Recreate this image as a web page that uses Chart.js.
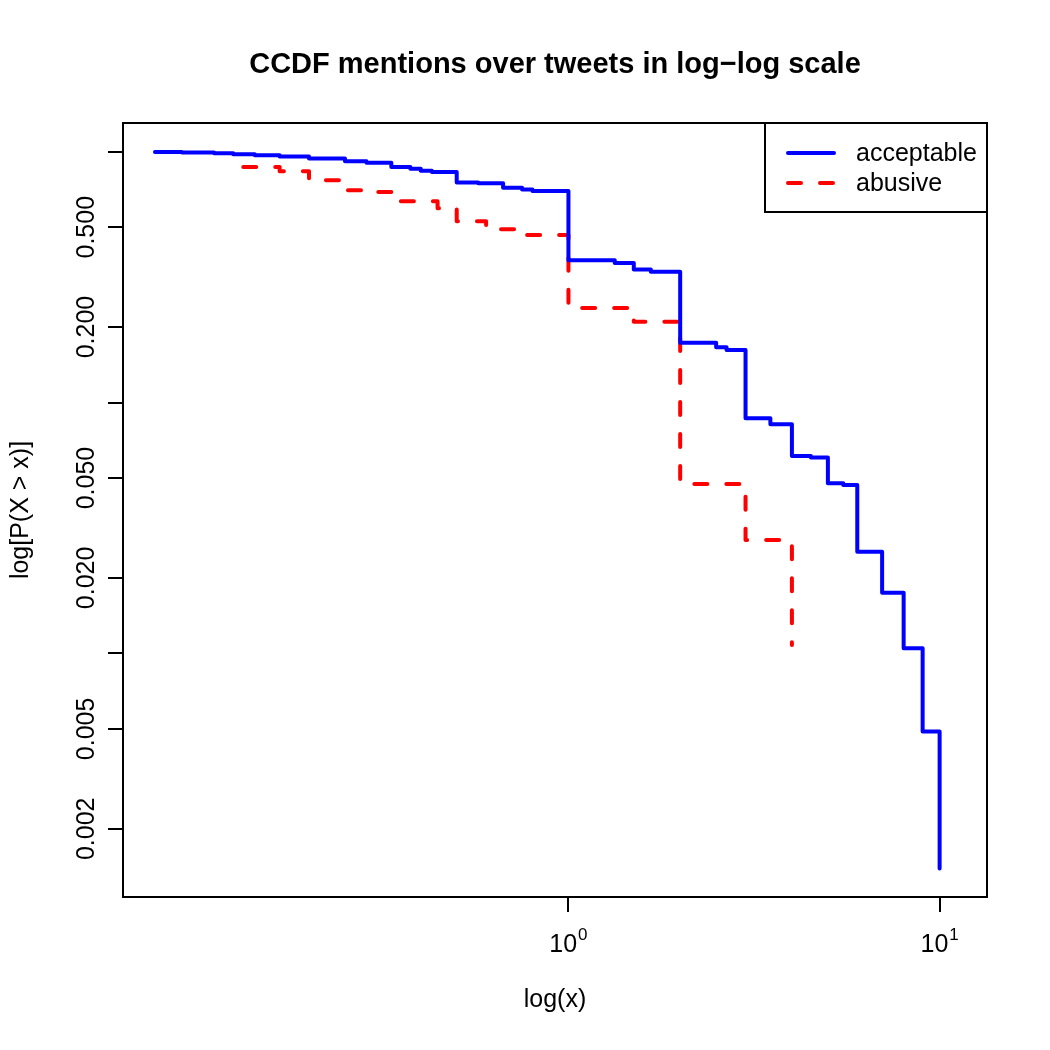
<!DOCTYPE html>
<html>
<head>
<meta charset="utf-8">
<script src="https://cdn.jsdelivr.net/npm/chart.js@4.4.1/dist/chart.umd.min.js"></script>
<style>
  html, body { margin: 0; padding: 0; background: #ffffff; }
  canvas { display: block; }
</style>
</head>
<body>
<canvas id="c" width="1050" height="1050"></canvas>
<script>
// ---- data ----
const titleText = "CCDF mentions over tweets in log\u2212log scale";
const xLabel = "log(x)";
const yLabel = "log[P(X > x)]";
const seriesNames = ["acceptable", "abusive"];

const acceptableX = [0.0769, 0.0909, 0.111, 0.125, 0.1429, 0.1667, 0.2, 0.25, 0.2857, 0.3333, 0.375, 0.4, 0.4286, 0.5, 0.5714, 0.6667, 0.75, 0.8, 1, 1.333, 1.5, 1.667, 2, 2.5, 2.667, 3, 3.5, 4, 4.5, 5, 5.5, 6, 7, 8, 9, 10];
const acceptableY = [0.997, 0.992, 0.985, 0.976, 0.967, 0.956, 0.939, 0.916, 0.903, 0.869, 0.855, 0.839, 0.830, 0.753, 0.748, 0.719, 0.706, 0.697, 0.369, 0.360, 0.339, 0.332, 0.173, 0.166, 0.162, 0.0865, 0.082, 0.0612, 0.0604, 0.0477, 0.0469, 0.0254, 0.01745, 0.01048, 0.00488, 0.00139];

const abusiveX = [0.133, 0.1667, 0.2, 0.25, 0.2857, 0.3333, 0.444, 0.5, 0.6, 0.75, 1, 1.5, 2, 3, 4];
const abusiveY = [0.869, 0.835, 0.769, 0.702, 0.691, 0.634, 0.595, 0.528, 0.491, 0.465, 0.238, 0.2097, 0.0474, 0.0283, 0.0108];

const xTicks = [1, 10];
const xTickBase = ["10", "10"];
const xTickExp = ["0", "1"];
const yTicks = [1, 0.5, 0.2, 0.1, 0.05, 0.02, 0.01, 0.005, 0.002];
const yTickLabels = ["", "0.500", "0.200", "", "0.050", "0.020", "", "0.005", "0.002"];

const xRange = [0.06308, 13.417];
const yRange = [0.001069, 1.3012];

const FONT = '"Liberation Sans", Arial, Helvetica, sans-serif';

const annotate = {
  id: 'annotate',
  afterDraw(chart) {
    const ctx = chart.ctx;
    const a = chart.chartArea;
    const xs = chart.scales.x, ys = chart.scales.y;
    ctx.save();
    // plot box
    ctx.strokeStyle = '#000';
    ctx.lineWidth = 2;
    ctx.strokeRect(a.left, a.top, a.right - a.left, a.bottom - a.top);

    ctx.fillStyle = '#000';
    // title
    ctx.font = 'bold 29px ' + FONT;
    ctx.textAlign = 'center';
    ctx.textBaseline = 'alphabetic';
    ctx.fillText(titleText, (a.left + a.right) / 2, 73);

    // x axis label
    ctx.font = '25px ' + FONT;
    ctx.fillText(xLabel, (a.left + a.right) / 2, 1007);

    // x tick labels with superscript
    xs.ticks.forEach((t, i) => {
      const px = xs.getPixelForValue(t.value);
      ctx.font = '25px ' + FONT;
      const wb = ctx.measureText(xTickBase[i]).width;
      ctx.font = '17px ' + FONT;
      const we = ctx.measureText(xTickExp[i]).width;
      const start = px - (wb + we + 1) / 2;
      ctx.textAlign = 'left';
      ctx.font = '25px ' + FONT;
      ctx.fillText(xTickBase[i], start, 952);
      ctx.font = '17px ' + FONT;
      ctx.fillText(xTickExp[i], start + wb + 1, 940);
    });

    // y tick labels (rotated)
    ctx.font = '25px ' + FONT;
    ctx.textAlign = 'center';
    ys.ticks.forEach((t, i) => {
      const lab = yTickLabels[yTicks.indexOf(t.value)];
      if (!lab) return;
      const py = ys.getPixelForValue(t.value);
      ctx.save();
      ctx.translate(94, py);
      ctx.rotate(-Math.PI / 2);
      ctx.fillText(lab, 0, 0);
      ctx.restore();
    });

    // y axis label
    ctx.save();
    ctx.translate(28, (a.top + a.bottom) / 2);
    ctx.rotate(-Math.PI / 2);
    ctx.fillText(yLabel, 0, 0);
    ctx.restore();

    // legend
    const lx = 765, ly = a.top, lw = a.right - 765, lh = 89;
    ctx.fillStyle = '#fff';
    ctx.fillRect(lx, ly, lw, lh);
    ctx.strokeStyle = '#000';
    ctx.lineWidth = 2;
    ctx.strokeRect(lx, ly, lw, lh);
    const rows = [153, 183];
    chart.data.datasets.forEach((ds, i) => {
      ctx.beginPath();
      ctx.strokeStyle = ds.borderColor;
      ctx.lineWidth = ds.borderWidth;
      ctx.lineCap = 'round';
      ctx.setLineDash(ds.borderDash || []);
      ctx.moveTo(788, rows[i]);
      ctx.lineTo(834, rows[i]);
      ctx.stroke();
      ctx.setLineDash([]);
      ctx.fillStyle = '#000';
      ctx.font = '25px ' + FONT;
      ctx.textAlign = 'left';
      ctx.textBaseline = 'middle';
      ctx.fillText(ds.label, 856, rows[i] + 1);
    });
    ctx.restore();
  }
};

const bg = {
  id: 'bg',
  beforeDraw(chart) {
    const ctx = chart.ctx;
    ctx.save();
    ctx.fillStyle = '#fff';
    ctx.fillRect(0, 0, chart.width, chart.height);
    ctx.restore();
  }
};

const axisCommon = {
  type: 'logarithmic',
  bounds: 'data',
  ticks: { display: false },
  grid: { drawOnChartArea: false, drawTicks: true, tickLength: 15, color: '#000', lineWidth: 2 },
  border: { display: false }
};

new Chart(document.getElementById('c'), {
  type: 'line',
  data: {
    datasets: [
      {
        label: seriesNames[0],
        data: acceptableX.map((x, i) => ({ x: x, y: acceptableY[i] })),
        borderColor: '#0000ff',
        borderWidth: 4,
        stepped: 'before',
        pointRadius: 0,
        fill: false,
        borderCapStyle: 'round',
        borderJoinStyle: 'round'
      },
      {
        label: seriesNames[1],
        data: abusiveX.map((x, i) => ({ x: x, y: abusiveY[i] })),
        borderColor: '#ff0000',
        borderWidth: 4,
        borderDash: [13, 19],
        stepped: 'before',
        pointRadius: 0,
        fill: false,
        borderCapStyle: 'round',
        borderJoinStyle: 'round'
      }
    ]
  },
  options: {
    responsive: false,
    animation: false,
    devicePixelRatio: 1,
    layout: { padding: { top: 123, right: 63, left: 0, bottom: 0 } },
    plugins: { legend: { display: false }, title: { display: false }, tooltip: { enabled: false } },
    scales: {
      x: Object.assign({}, axisCommon, {
        min: xRange[0], max: xRange[1],
        afterBuildTicks: s => { s.ticks = xTicks.map(v => ({ value: v })); },
        afterFit: s => { s.height = 153; }
      }),
      y: Object.assign({}, axisCommon, {
        min: yRange[0], max: yRange[1],
        afterBuildTicks: s => { s.ticks = yTicks.map(v => ({ value: v })); },
        afterFit: s => { s.width = 123; }
      })
    }
  },
  plugins: [bg, annotate]
});
</script>
</body>
</html>
